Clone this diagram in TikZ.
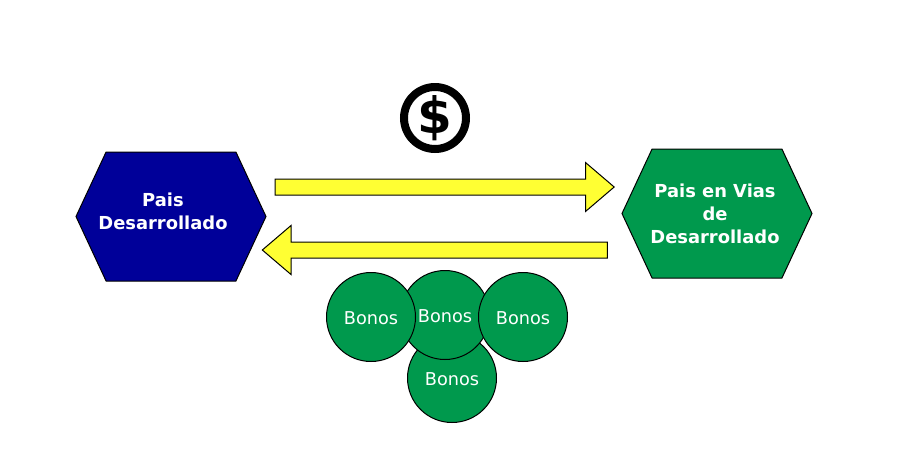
\documentclass[tikz,border=0pt]{standalone}
\usepackage{xcolor}
\usepackage{fontspec}
\setmainfont{DejaVu Sans}
\usetikzlibrary{shapes.symbols, shapes.arrows}
\definecolor{hexblue}{HTML}{000099}
\definecolor{bondgreen}{HTML}{00994D}
\definecolor{arrowyellow}{HTML}{FFFF33}

\begin{document}
\begin{tikzpicture}[x=1pt, y=-1pt,
    country/.style={signal, signal to=east and west, signal from=nowhere, signal pointer angle=130, draw=black, line width=1pt, inner sep=0pt, minimum width=190pt, minimum height=129pt},
    countrytext/.style={text=white, align=center, inner sep=0pt, font=\fontsize{17.9}{23}\selectfont\bfseries},
    bond/.style={circle, draw=black, line width=1pt, fill=bondgreen, inner sep=0pt, minimum size=89pt, text=white, text height=15pt, font=\fontsize{17.7}{22}\selectfont},
    flow/.style={single arrow, draw=black, line width=1pt, fill=arrowyellow, inner sep=0pt, text height=15pt, text depth=0pt, minimum width=48pt, single arrow head extend=16.5pt, single arrow tip angle=81, single arrow head indent=0pt}]
    \useasboundingbox (0,0) rectangle (905,467);
    \node [country, fill=hexblue] (rich) at (171,216.5) {};
    \node [country, fill=bondgreen] (poor) at (717,213.5) {};
    \node [countrytext] (richtext) at (163,211.5) {Pais\\Desarrollado};
    \node [countrytext] (poortext) at (715,213.5) {Pais en Vias\\de\\Desarrollado};

    \node [flow, minimum height=339pt] (money) at (440,187) {};
    \node [flow, minimum height=345pt, shape border rotate=180] (debt) at (439.5,250) {};

    \node [circle, draw=black, line width=8pt, inner sep=0pt, minimum size=62pt, font=\fontsize{50}{50}\selectfont\bfseries] (dollar) at (435,118) {\$};

    % bottom one first, the others lie over it
    \node [bond] (bond4) at (452,378) {Bonos};
    \node [bond] (bond2) at (445,315) {Bonos};
    \node [bond] (bond1) at (371,317) {Bonos};
    \node [bond] (bond3) at (523,317) {Bonos};
\end{tikzpicture}
\end{document}
